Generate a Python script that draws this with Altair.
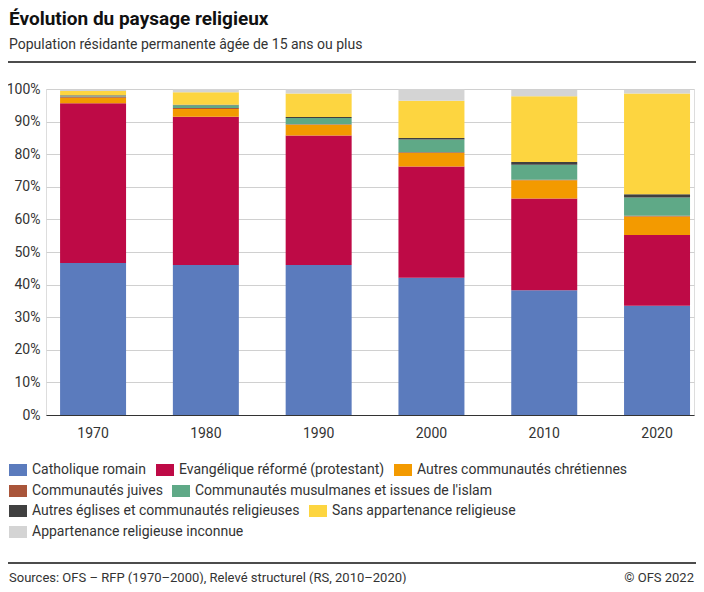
import altair as alt
import pandas as pd

years = ["1970", "1980", "1990", "2000", "2010", "2020"]
categories = [
    "Catholique romain",
    "Evangélique réformé (protestant)",
    "Autres communautés chrétiennes",
    "Communautés juives",
    "Communautés musulmanes et issues de l'islam",
    "Autres églises et communautés religieuses",
    "Sans appartenance religieuse",
    "Appartenance religieuse inconnue",
]
colors = ["#5b7bbd", "#be0a46", "#f39a00", "#a9553a", "#5fa987", "#404040", "#fdd540", "#d4d4d4"]

catholique = [46.6, 46.0, 46.0, 42.1, 38.3, 33.5]
protestant = [49.0, 45.5, 39.7, 34.1, 28.1, 21.7]
autres_chretiens = [1.7, 2.4, 3.3, 4.2, 5.6, 5.7]
juives = [0.4, 0.3, 0.2, 0.2, 0.2, 0.2]
musulmanes = [0.2, 0.8, 1.9, 3.9, 4.6, 5.6]
autres_religions = [0.2, 0.2, 0.3, 0.5, 0.8, 1.0]
sans_appartenance = [1.3, 3.8, 7.2, 11.4, 20.2, 30.9]
inconnue = [0.3, 1.0, 1.4, 3.6, 1.9, 1.1]
series = [catholique, protestant, autres_chretiens, juives, musulmanes,
          autres_religions, sans_appartenance, inconnue]

title_text = "Évolution du paysage religieux"
subtitle_text = "Population résidante permanente âgée de 15 ans ou plus"
source_text = "Sources: OFS – RFP (1970–2000), Relevé structurel (RS, 2010–2020)"
copyright_text = "© OFS 2022"

rows = []
for ci, (cat, vals) in enumerate(zip(categories, series)):
    for y, v in zip(years, vals):
        rows.append({"year": y, "cat": cat, "order": ci, "value": v})
df = pd.DataFrame(rows)

legend_rows = [[0, 1, 2], [3, 4], [5, 6], [7]]
legend_y = [372, 393, 413, 434]

FONT = "Roboto"
W, H = 648, 326
LEFT = -37
rect_path = "M-1,-0.667L1,-0.667L1,0.667L-1,0.667Z"

base = alt.Chart(df).transform_stack(
    stack="value", groupby=["year"], as_=["y0", "y1"],
    sort=[alt.SortField("order", order="ascending")]
)

x_enc = alt.X("year:N", title=None,
              scale=alt.Scale(paddingInner=0.415, paddingOuter=0.08, align=0.78),
              axis=alt.Axis(labelAngle=0, labelFontSize=14, labelFont=FONT, labelColor="#333333",
                            labelPadding=11, ticks=False, domain=True, domainColor="#333333",
                            domainWidth=1.2, grid=False))
y_axis = alt.Axis(values=list(range(0, 101, 10)), labelExpr="datum.value + '%'",
                  labelFontSize=14, labelFont=FONT, labelColor="#333333", labelPadding=6,
                  ticks=False, domain=False, grid=True, gridColor="#d0d0d0", gridWidth=1)

bar_layers = []
for idxs, ly in zip(legend_rows, legend_y):
    dom = [categories[i] for i in idxs]
    rng = [colors[i] for i in idxs]
    layer = base.transform_filter(
        alt.FieldOneOfPredicate(field="cat", oneOf=dom)
    ).mark_bar(strokeWidth=0).encode(
        x=x_enc,
        y=alt.Y("y0:Q", title=None, scale=alt.Scale(domain=[0, 100], nice=False), axis=y_axis),
        y2="y1:Q",
        color=alt.Color("cat:N", scale=alt.Scale(domain=dom, range=rng),
                        legend=alt.Legend(orient="none", legendX=LEFT, legendY=ly,
                                          direction="horizontal", title=None,
                                          symbolType=rect_path, symbolSize=324,
                                          symbolStrokeWidth=0, symbolOpacity=1,
                                          labelFontSize=14, labelFont=FONT, labelColor="#333333",
                                          labelOffset=5, columnPadding=9, padding=0,
                                          labelLimit=500)),
    )
    bar_layers.append(layer)

one = pd.DataFrame({"a": [0]})

def text_layer(txt, x, y, size, weight="normal", align="left", color="#222222"):
    return alt.Chart(one).mark_text(
        text=txt, align=align, baseline="alphabetic", fontSize=size, font=FONT,
        fontWeight=weight, color=color
    ).encode(x=alt.value(x), y=alt.value(y))

title = text_layer(title_text, LEFT, -64, 19, weight="bold", color="#111111")
subtitle = text_layer(subtitle_text, LEFT, -40, 14, color="#333333")
source = text_layer(source_text, LEFT, 493, 13, color="#333333")
copyright_ = text_layer(copyright_text, 648, 493, 13, align="right", color="#333333")

top_rule = alt.Chart(one).mark_rule(color="#111111", strokeWidth=1.5).encode(
    x=alt.value(-38), x2=alt.value(650), y=alt.value(-27))
bottom_rule = alt.Chart(one).mark_rule(color="#111111", strokeWidth=1.5).encode(
    x=alt.value(-38), x2=alt.value(650), y=alt.value(474))

chart = alt.layer(
    *bar_layers, title, subtitle, top_rule, bottom_rule, source, copyright_
).resolve_scale(color="independent").properties(
    width=W, height=H,
    autosize=alt.AutoSizeParams(type="none"),
    padding={"left": 38, "top": 81, "right": 2, "bottom": 169},
).configure_view(stroke=None).configure(font=FONT)

chart.save("out.html", embed_options={"renderer": "svg", "actions": False})
